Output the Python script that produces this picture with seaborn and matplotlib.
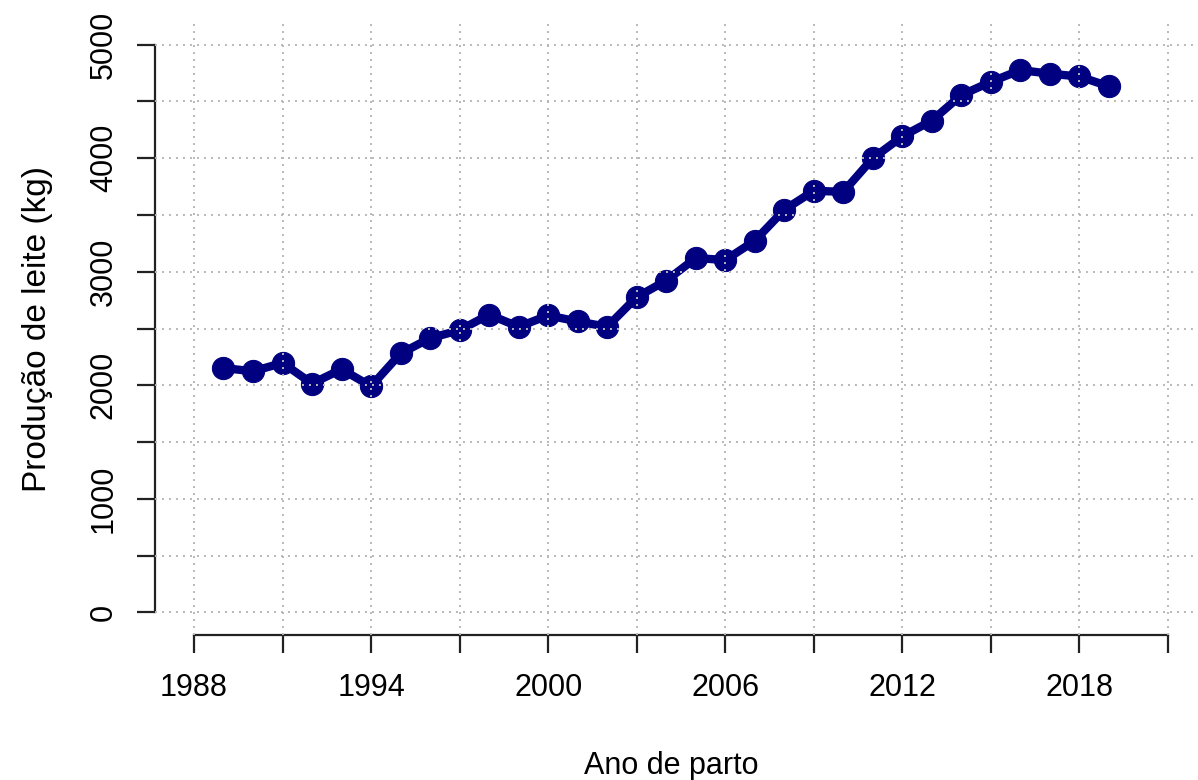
import matplotlib
matplotlib.use("Agg")
import matplotlib.pyplot as plt
import seaborn as sns
import pandas as pd

years = list(range(1989, 2020))
milk = [2152, 2123, 2197, 2015, 2141, 1991, 2280, 2415, 2485, 2622,
        2515, 2615, 2562, 2515, 2777, 2922, 3121, 3103, 3273, 3546,
        3713, 3704, 4000, 4193, 4332, 4557, 4673, 4777, 4744, 4720, 4632]

x_ticks = list(range(1988, 2022, 3))
x_tick_labels = ["1988", "", "1994", "", "2000", "", "2006", "", "2012", "", "2018", ""]
y_ticks = list(range(0, 5001, 500))
y_tick_labels = ["0", "", "1000", "", "2000", "", "3000", "", "4000", "", "5000"]

x_label = "Ano de parto"
y_label = "Produção de leite (kg)"

df = pd.DataFrame({"ano": years, "leite": milk})

sns.set_style("white")
plt.rcParams["font.family"] = ["Liberation Sans", "DejaVu Sans"]
plt.rcParams["text.color"] = "black"
plt.rcParams["axes.labelcolor"] = "black"

W, H = 1198, 780
fig = plt.figure(figsize=(W / 100, H / 100), dpi=100)
left_px, right_px, top_px, bottom_px = 155, 1207, 22, 635
ax = fig.add_axes([left_px / W, 1 - bottom_px / H,
                   (right_px - left_px) / W, (bottom_px - top_px) / H])

sns.lineplot(data=df, x="ano", y="leite", ax=ax, color="#000080",
             linewidth=6, marker="o", markersize=16,
             markeredgecolor="#000080", markerfacecolor="#000080", zorder=2)

ax.set_xlim(1986.68, 2022.32)
ax.set_ylim(-200, 5200)

ax.set_xticks(x_ticks)
ax.set_xticklabels(x_tick_labels, fontsize=22)
ax.set_yticks(y_ticks)
ax.set_yticklabels(y_tick_labels, fontsize=22, rotation=90, va="center")

ax.set_axisbelow(False)
ax.grid(True, color="#b8b8b8", linewidth=1.4, linestyle=(0, (1, 2.6)))

for s in ["top", "right"]:
    ax.spines[s].set_visible(False)
for s in ["left", "bottom"]:
    ax.spines[s].set_linewidth(1.6)
    ax.spines[s].set_color("#222222")
ax.spines["left"].set_bounds(0, 5000)
ax.spines["bottom"].set_bounds(1988, 2021)

ax.tick_params(axis="both", direction="out", length=13, width=1.6,
               color="#222222", labelcolor="black")
ax.tick_params(axis="x", pad=14)
ax.tick_params(axis="y", pad=13)
ax.tick_params(left=True, bottom=True)

ax.set_xlabel(x_label, fontsize=22, color="black")
ax.set_ylabel(y_label, fontsize=24, labelpad=26, color="black")
ax.xaxis.set_label_coords(0.4905, -0.189)

fig.savefig("out.png", dpi=100)
